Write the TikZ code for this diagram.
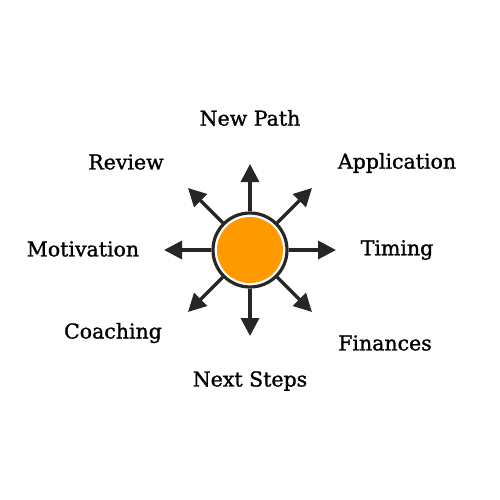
\documentclass[tikz,border=0pt]{standalone}
\usepackage{fontspec}
\setmainfont[FakeBold=1.2]{DejaVu Serif}
\usetikzlibrary{arrows.meta}
\definecolor{dark}{HTML}{262626}
\definecolor{sun}{HTML}{FF9900}
\tikzset{
  lbl/.style={font=\fontsize{20.5}{23}\selectfont, text=black, inner sep=0pt},
  ray/.style={draw=dark, line width=3.4pt, -{Triangle[length=18pt,width=18pt]}},
}
\begin{document}
\begin{tikzpicture}[x=1pt,y=-1pt]
\useasboundingbox[fill=white] (0,0) rectangle (500,500);
\node[circle, draw=dark, line width=3.2pt, fill=white, minimum size=74pt, inner sep=0pt] (c) at (250,250) {};
\node[circle, fill=sun, minimum size=66pt, inner sep=0pt] (core) at (250,250) {};
\coordinate (tN) at (250,164);
\coordinate (tS) at (250,336);
\coordinate (tE) at (336,250);
\coordinate (tW) at (164,250);
\coordinate (tNE) at (312,188);
\coordinate (tNW) at (188,188);
\coordinate (tSE) at (312,312);
\coordinate (tSW) at (188,312);
\foreach \t/\a in {tN/90,tS/270,tE/0,tW/180,tNE/45,tNW/135,tSE/315,tSW/225}
  \draw[ray] (c.\a) -- (\t);
\node[lbl] (np) at (250,118) {New Path};
\node[lbl] (ap) at (397,163) {Application};
\node[lbl] (rv) at (126,162) {Review};
\node[lbl] (mo) at (83,249) {Motivation};
\node[lbl] (ti) at (397,250) {Timing};
\node[lbl] (co) at (113,333) {Coaching};
\node[lbl] (fi) at (385,343) {Finances};
\node[lbl] (ns) at (250,381) {Next Steps};
\end{tikzpicture}
\end{document}
